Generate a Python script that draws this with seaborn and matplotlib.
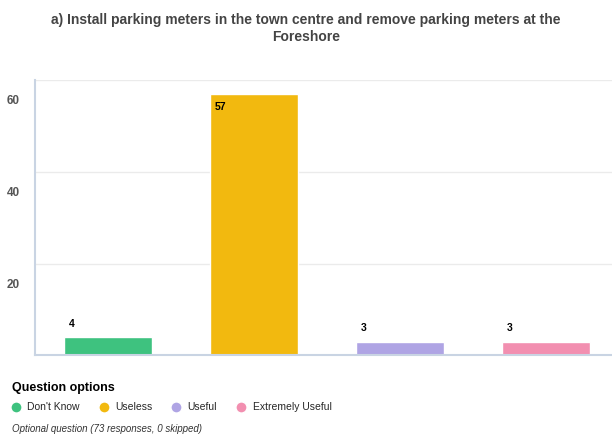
import numpy as np
import pandas as pd
import seaborn as sns
import matplotlib.pyplot as plt
import matplotlib.transforms as mtransforms
from matplotlib.lines import Line2D

sns.set_style("white")
plt.rcParams['font.family'] = ['Liberation Sans', 'DejaVu Sans']

# data
options = ["Don't Know", "Useless", "Useful", "Extremely Useful"]
counts = [4, 57, 3, 3]
colors = ["#3ec27f", "#f2b90f", "#afa4e4", "#f28fb0"]
yticks = [20, 40, 60]

d = pd.DataFrame({"option": options, "count": counts})

fig = plt.figure(figsize=(6.12, 4.37), dpi=100)
ax = fig.add_axes([0.057, 0.187, 0.955, 0.63])

sns.barplot(data=d, x="option", y="count", hue="option", palette=colors,
            width=0.6, legend=False, ax=ax, saturation=1)

ax.set_ylim(0, 60)
ax.set_xlim(-0.5, 3.5)
ax.set_xlabel("")
ax.set_ylabel("")
ax.set_xticks([])
ax.set_yticks(yticks)
ax.yaxis.grid(True, color="#ebebeb", linewidth=1)
ax.tick_params(axis="y", length=0, labelsize=8.5, labelcolor="#555555", pad=20)
# tick labels sit a little below their gridlines and are left-aligned in the original
offset = mtransforms.ScaledTranslation(0, -20 / 100, fig.dpi_scale_trans)
for lab in ax.get_yticklabels():
    lab.set_transform(lab.get_transform() + offset)
    lab.set_fontweight("bold")
    lab.set_horizontalalignment("left")

for s in ["top", "right"]:
    ax.spines[s].set_visible(False)
for s in ["left", "bottom"]:
    ax.spines[s].set_color("#c9d4e3")
    ax.spines[s].set_linewidth(1.5)

# value labels at the left of each bar
for i, v in enumerate(counts):
    x = i - 0.3 + 0.03
    if v > 50:
        ax.text(x, v - 1.8, str(v), ha="left", va="top", fontsize=7.5,
                fontweight="bold", color="black")
    else:
        ax.text(x, v + 1.8, str(v), ha="left", va="bottom", fontsize=7.5,
                fontweight="bold", color="black")

fig.suptitle("a) Install parking meters in the town centre and remove parking meters at the\nForeshore",
             y=0.97, fontsize=10, fontweight="bold", color="#444444", linespacing=1.3)

# legend
fig.text(0.02, 0.105, "Question options", fontsize=9, fontweight="bold", color="black")
handles = [Line2D([0], [0], marker="o", color="w", markerfacecolor=c,
                  markersize=8) for c in colors]
fig.legend(handles, options, loc="lower left", bbox_to_anchor=(0.0, 0.035),
           ncol=4, frameon=False, fontsize=7.5, handletextpad=0.5,
           columnspacing=1.7, handlelength=1.2)
fig.text(0.02, 0.012, "Optional question (73 responses, 0 skipped)", fontsize=7,
         style="italic", color="#333333")

plt.savefig("out.png", dpi=100)
